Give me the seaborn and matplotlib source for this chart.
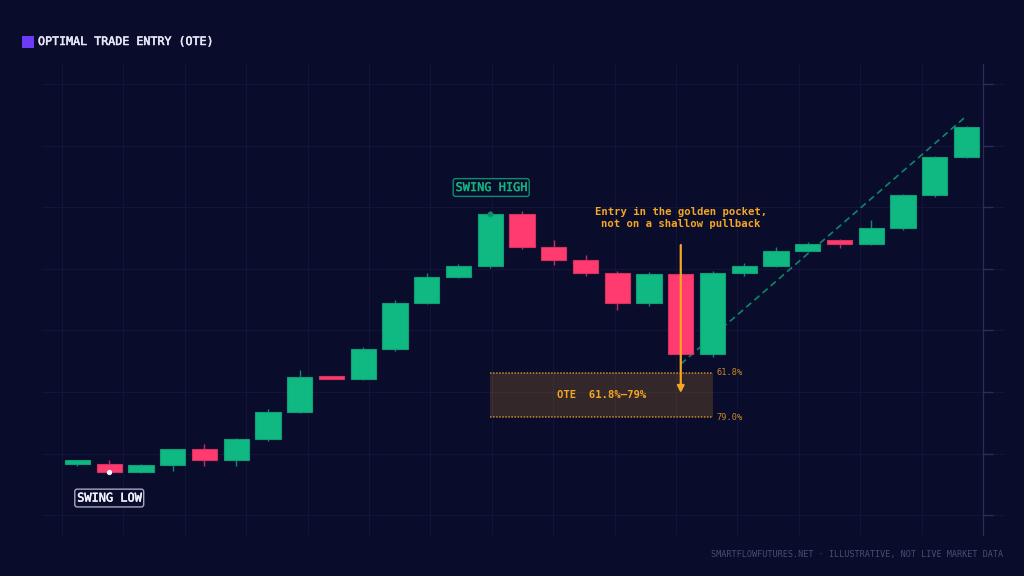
import numpy as np
import pandas as pd
import seaborn as sns
import matplotlib
matplotlib.use("Agg")
import matplotlib.pyplot as plt
import matplotlib.patheffects as pe
from matplotlib.patches import Rectangle

# candles
opens = [18.29, 18.29, 17.04, 18.08, 20.68, 18.94, 22.36, 26.80, 32.60, 32.11, 36.99, 44.47,
         48.75, 50.49, 58.89, 53.58, 51.41, 49.30, 44.42, 49.19, 36.23, 49.30, 50.49, 52.98,
         54.72, 54.11, 56.72, 62.03, 68.16]
closes = [18.94, 17.04, 18.08, 20.68, 18.94, 22.36, 26.80, 32.44, 32.11, 36.99, 44.47, 48.70,
          50.49, 58.89, 53.58, 51.41, 49.30, 44.42, 49.19, 36.23, 49.30, 50.49, 52.93, 54.11,
          54.11, 56.72, 62.03, 68.16, 73.14]
highs = [18.94, 19.0, 18.29, 20.78, 21.54, 22.57, 27.24, 33.58, 32.60, 37.32, 44.96, 49.35,
         50.81, 59.48, 59.48, 54.72, 52.28, 49.67, 49.56, 49.19, 49.67, 51.03, 53.63, 54.44,
         54.88, 57.97, 62.20, 68.42, 73.30]
lows = [17.92, 17.04, 16.78, 17.20, 17.92, 18.02, 22.03, 26.63, 32.11, 31.95, 36.67, 44.31,
        48.59, 50.21, 53.20, 50.60, 48.91, 43.33, 44.03, 36.23, 35.64, 48.86, 50.28, 52.76,
        53.37, 53.85, 56.34, 61.66, 68.00]

ote_top = 33.09
ote_bottom = 25.93
impulse_x = [19, 28]
impulse_y = [34.55, 74.88]
swing_low = (1, 17.04)
swing_high = (13, 58.89)

BG = "#0A0C2C"
GRID = "#12143A"
AXIS = "#2B2D58"
GREEN = "#10B981"
RED = "#FF3B6F"
AMBER = "#F5A623"
MONO = "DejaVu Sans Mono"

sns.set_theme(style="dark", rc={"figure.facecolor": BG, "axes.facecolor": BG, "savefig.facecolor": BG})
plt.rcParams["font.family"] = [MONO]

# browser text is a bit heavier than agg text
heavier = [pe.withStroke(linewidth=0.35, foreground="#E8E9F8")]

df = pd.DataFrame({"i": range(len(opens)), "open": opens, "close": closes, "high": highs, "low": lows})
df["bottom"] = df[["open", "close"]].min(axis=1)
df["height"] = (df["open"] - df["close"]).abs()
up = df[df["close"] >= df["open"]]
down = df[df["close"] < df["open"]]

fig = plt.figure(figsize=(10.24, 5.76), dpi=100)
ax = fig.add_axes([42 / 1024, 41 / 576, 962 / 1024, 471 / 576])

# wicks and bodies
sns.lineplot(x=impulse_x, y=impulse_y, ax=ax, color=GREEN, alpha=0.7, lw=1.2, ls=(0, (4, 2.5)), zorder=2)
ax.vlines(up["i"], up["low"], up["high"], color="#0B8F6B", lw=1, zorder=3)
ax.vlines(down["i"], down["low"], down["high"], color="#C42C5A", lw=1, zorder=3)
sns.barplot(data=up, x="i", y="height", bottom=up["bottom"].values, native_scale=True, errorbar=None,
            color=GREEN, saturation=1, width=0.79, edgecolor="#0E9E78", linewidth=0.8, ax=ax, zorder=4)
sns.barplot(data=down, x="i", y="height", bottom=down["bottom"].values, native_scale=True, errorbar=None,
            color=RED, saturation=1, width=0.79, edgecolor="#D4325F", linewidth=0.8, ax=ax, zorder=4)

ax.set_xlim(-1.118, 29.181)
ax.set_ylim(6.75, 83.33)
ax.set_xlabel("")
ax.set_ylabel("")

ax.set_xticks(np.arange(-0.49, 28.6, 1.934))
ax.set_yticks(np.arange(10, 81, 10))
ax.grid(True, color=GRID, lw=0.8)
ax.set_axisbelow(True)
ax.tick_params(axis="x", length=0, labelbottom=False)
ax.yaxis.tick_right()
ax.tick_params(axis="y", length=7.5, width=1, color=AXIS, labelright=False, left=False)
for side in ["top", "bottom", "left"]:
    ax.spines[side].set_visible(False)
ax.spines["right"].set_visible(True)
ax.spines["right"].set_color(AXIS)
ax.spines["right"].set_linewidth(0.9)
ax.spines["right"].set_position(("data", 28.53))

# OTE zone
ax.add_patch(Rectangle((13, ote_bottom), 7, ote_top - ote_bottom, facecolor=AMBER, alpha=0.18, edgecolor="none", zorder=1.5))
ax.hlines([ote_top, ote_bottom], 13, 20, color=AMBER, alpha=0.8, lw=1.1, ls=(0, (1, 1)), zorder=2)
ax.text(16.5, (ote_top + ote_bottom) / 2, "OTE  61.8%–79%", color=AMBER, fontsize=7.6, fontweight="bold",
        ha="center", va="center", zorder=6)
ax.text(20.13, ote_top, "61.8%", color=AMBER, alpha=0.8, fontsize=6.2, va="center", zorder=6)
ax.text(20.13, ote_bottom, "79.0%", color=AMBER, alpha=0.8, fontsize=6.2, va="center", zorder=6)

# entry arrow and note
ax.annotate("", xy=(19, 29.84), xytext=(19, 53.9), zorder=7,
            arrowprops=dict(arrowstyle="-|>", color=AMBER, lw=1.6, mutation_scale=10, shrinkA=0, shrinkB=0))
ax.text(19, 58.25, "Entry in the golden pocket,\nnot on a shallow pullback", color=AMBER, fontsize=7.7,
        fontweight="bold", ha="center", va="center", linespacing=1.25, zorder=6)

# swing labels
ax.plot(*swing_low, "o", ms=2.8, color="#F2F3FF", zorder=6)
ax.plot(*swing_high, "o", ms=3.2, color="#0B8F6B", zorder=6)
low_txt = ax.text(1, 12.76, "SWING LOW", color="#F2F3FF", fontsize=8.6, ha="center", va="center", zorder=6,
                  bbox=dict(boxstyle="round,pad=0.2,rounding_size=0.2", fc=BG, ec="#A5A7C0", lw=1))
low_txt.set_path_effects([pe.withStroke(linewidth=0.35, foreground="#F2F3FF")])
high_txt = ax.text(13.03, 63.25, "SWING HIGH", color=GREEN, alpha=0.9, fontsize=8.6, ha="center", va="center", zorder=6,
                   bbox=dict(boxstyle="round,pad=0.2,rounding_size=0.2", fc=BG, ec="#0B8F6B", lw=1))
high_txt.set_path_effects([pe.withStroke(linewidth=0.3, foreground=GREEN)])

# header and footer
fig.patches.append(Rectangle((22 / 1024, 1 - 48 / 576), 12 / 1024, 12 / 576, transform=fig.transFigure,
                             facecolor="#6D3BF5", edgecolor="none", figure=fig))
title = fig.text(38 / 1024, 1 - 41.5 / 576, "OPTIMAL TRADE ENTRY (OTE)", color="#E8E9F8", fontsize=8.4, va="center")
title.set_path_effects(heavier)
fig.text(1003 / 1024, 1 - 555 / 576, "SMARTFLOWFUTURES.NET · ILLUSTRATIVE, NOT LIVE MARKET DATA",
         color="#4B4D72", fontsize=6.1, ha="right", va="center")

fig.savefig("out.png", dpi=100)
